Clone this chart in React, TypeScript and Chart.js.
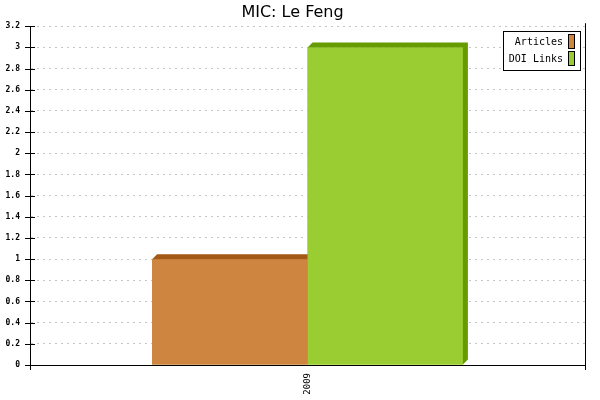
import React, { useEffect, useRef } from "react";
import { Chart, registerables } from "chart.js";

Chart.register(...registerables);

const categories = ["2009"];
const seriesNames = ["Articles", "DOI Links"];
const articles = [1];
const doiLinks = [3];
const yTicks = [0, 0.2, 0.4, 0.6, 0.8, 1, 1.2, 1.4, 1.6, 1.8, 2, 2.2, 2.4, 2.6, 2.8, 3, 3.2];

const faceColors = ["#cd853f", "#9acd32"];
const shadeColors = ["#a45a14", "#669c00"];
const DEPTH = 5;

// bars are redrawn in series order, each followed by its 3D top and side
const bar3d = {
  id: "bar3d",
  afterDatasetsDraw(chart: any) {
    const { ctx } = chart;
    chart.data.datasets.forEach((_: any, i: number) => {
      const meta = chart.getDatasetMeta(i);
      const shade = shadeColors[i] || "#666";
      meta.data.forEach((bar: any) => {
        bar.draw(ctx, chart.chartArea);
        const { x, y, base, width } = bar.getProps(["x", "y", "base", "width"], true);
        const l = x - width / 2;
        const r = x + width / 2;
        ctx.save();
        ctx.fillStyle = shade;
        ctx.beginPath();
        ctx.moveTo(l, y);
        ctx.lineTo(l + DEPTH, y - DEPTH);
        ctx.lineTo(r + DEPTH, y - DEPTH);
        ctx.lineTo(r + DEPTH, base - DEPTH);
        ctx.lineTo(r, base);
        ctx.lineTo(r, y);
        ctx.closePath();
        ctx.fill();
        ctx.restore();
      });
    });
  },
};

// y tick marks crossing the axis, right frame line and the boxed legend
const decorations = {
  id: "decorations",
  afterDraw(chart: any) {
    const { ctx, chartArea } = chart;
    const yScale = chart.scales.y;
    ctx.save();
    ctx.strokeStyle = "#000";
    ctx.lineWidth = 1;
    yScale.ticks.forEach((t: any) => {
      const py = Math.round(yScale.getPixelForValue(t.value)) + 0.5;
      ctx.beginPath();
      ctx.moveTo(chartArea.left - 5, py);
      ctx.lineTo(chartArea.left + 5, py);
      ctx.stroke();
    });
    const rx = Math.round(chartArea.right) + 0.5;
    ctx.beginPath();
    ctx.moveTo(rx, chartArea.top - 3);
    ctx.lineTo(rx, chartArea.bottom);
    ctx.stroke();

    // legend
    const boxR = chartArea.right - 5;
    const boxW = 77;
    const boxT = chartArea.top + 5;
    const rowH = 17;
    const boxH = 5 + rowH * seriesNames.length;
    const boxL = boxR - boxW;
    ctx.fillStyle = "#fff";
    ctx.fillRect(boxL, boxT, boxW, boxH);
    ctx.strokeRect(Math.round(boxL) + 0.5, Math.round(boxT) + 0.5, boxW, boxH);
    ctx.font = "10px 'DejaVu Sans Mono'";
    ctx.textAlign = "right";
    ctx.textBaseline = "middle";
    seriesNames.forEach((name, i) => {
      const cy = boxT + 11 + rowH * i;
      ctx.fillStyle = "#000";
      ctx.fillText(name, boxR - 17, cy);
      const sx = Math.round(boxR - 12) + 0.5;
      const sy = Math.round(cy - 8) + 0.5;
      ctx.fillStyle = faceColors[i];
      ctx.fillRect(sx, sy, 6, 14);
      ctx.strokeRect(sx, sy, 6, 14);
    });
    ctx.restore();
  },
};

export default function App() {
  const canvasRef = useRef<HTMLCanvasElement | null>(null);
  const chartInstance = useRef<Chart | null>(null);

  useEffect(() => {
    document.body.style.margin = "0";
    if (!canvasRef.current) return;
    if (chartInstance.current) chartInstance.current.destroy();

    chartInstance.current = new Chart(canvasRef.current, {
      type: "bar",
      data: {
        labels: categories,
        datasets: [
          {
            label: seriesNames[0],
            data: articles,
            backgroundColor: faceColors[0],
            borderWidth: 0,
          },
          {
            label: seriesNames[1],
            data: doiLinks,
            backgroundColor: faceColors[1],
            borderWidth: 0,
          },
        ],
      },
      options: {
        responsive: false,
        animation: false,
        layout: { padding: { left: 0, right: 15, top: 0, bottom: 0 } },
        datasets: {
          bar: { categoryPercentage: 0.56, barPercentage: 1 },
        },
        plugins: {
          legend: { display: false },
          tooltip: { enabled: false },
          title: {
            display: true,
            text: "MIC: Le Feng",
            color: "#000",
            font: { family: "'DejaVu Sans'", size: 16, weight: "normal" },
            padding: { top: 3, bottom: 4 },
          },
        },
        scales: {
          x: {
            grid: {
              drawOnChartArea: false,
              drawTicks: true,
              tickLength: 5,
              color: "#000",
            },
            border: { color: "#000", width: 1 },
            ticks: {
              color: "#000",
              font: { family: "'DejaVu Sans Mono'", size: 9 },
              minRotation: 90,
              maxRotation: 90,
              padding: 3,
            },
            afterFit: (scale: any) => {
              scale.height = 35;
            },
          },
          y: {
            min: 0,
            max: 3.2,
            afterBuildTicks: (scale: any) => {
              scale.ticks = yTicks.map((v) => ({ value: v }));
            },
            grid: {
              color: "#c4c4c4",
              drawTicks: false,
            },
            border: { color: "#000", width: 1, dash: [2, 4] },
            ticks: {
              color: "#000",
              font: { family: "'DejaVu Sans Mono'", size: 8, weight: "bold" },
              padding: 10,
              callback: (v: any) => String(Math.round(Number(v) * 10) / 10),
            },
            afterFit: (scale: any) => {
              scale.width = 30;
            },
          },
        },
      },
      plugins: [bar3d, decorations],
    });

    return () => {
      if (chartInstance.current) {
        chartInstance.current.destroy();
        chartInstance.current = null;
      }
    };
  }, []);

  return (
    <div style={{ width: 600, height: 400, background: "#fff" }}>
      <canvas ref={canvasRef} width={600} height={400} />
    </div>
  );
}
